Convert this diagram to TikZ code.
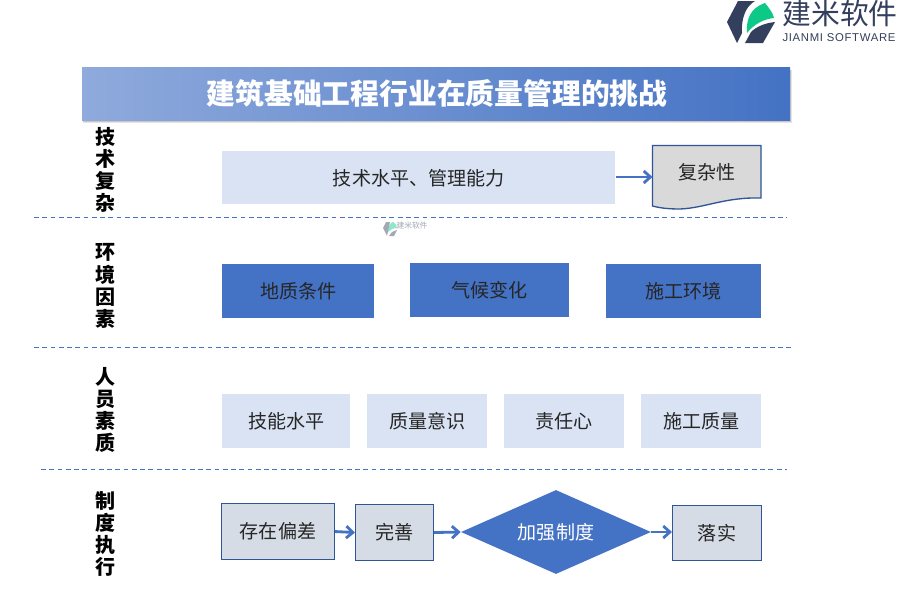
\documentclass[tikz,border=0pt]{standalone}
\usepackage{fontspec}
\setmainfont{Noto Sans CJK SC}
\newfontfamily\latinfont[LetterSpace=6]{Liberation Sans}
\usetikzlibrary{arrows.meta,shapes.geometric,calc}
\definecolor{blueM}{HTML}{4472C4}
\definecolor{blueL}{HTML}{DAE3F3}
\definecolor{blueT}{HTML}{8FAADC}
\definecolor{edgeB}{HTML}{2F5597}
\definecolor{greyB}{HTML}{D6DCE5}
\definecolor{greyD}{HTML}{D9D9D9}
\definecolor{logoD}{HTML}{333F5C}
\definecolor{logoG}{HTML}{0CC988}
\definecolor{txt}{HTML}{262626}
\tikzset{
 x=0.75pt,y=-0.75pt,
 lightbox/.style={fill=blueL,draw=none,inner sep=0pt,font=\fontsize{14.3}{16}\selectfont,text=txt},
 darkbox/.style={fill=blueM,draw=none,inner sep=0pt,font=\fontsize{14.3}{16}\selectfont,text=txt},
 greybox/.style={fill=greyB,draw=edgeB,line width=0.8pt,inner sep=0pt,font=\fontsize{14.3}{16}\selectfont,text=txt},
 sidelabel/.style={font=\fontsize{15}{16.6}\selectfont\bfseries,text=black,align=center,inner sep=0pt},
 divider/.style={draw=blueM,line width=0.8pt,dash pattern=on 3.6pt off 2.6pt},
 flow/.style={draw=blueM,line width=2.1pt,-{Straight Barb[length=5pt,width=9pt,line width=2.1pt]}},
}
\newcommand{\boxat}[7]{\node[#1,minimum width=#4*0.75pt,minimum height=#5*0.75pt,anchor=north west] (#2) at (#3) {#6};}
\begin{document}
\begin{tikzpicture}
\useasboundingbox (0,0) rectangle (900,600);
\fill[white] (0,0) rectangle (900,600);
% title
\fill[black!10] (83,70) rectangle (791.5,123);
\fill[black!22] (83,70) rectangle (790.8,121.5);
\shade[left color=blueT,right color=blueM] (82,67) rectangle (790,120);
\node[inner sep=0pt,text=white,font=\fontsize{21.6}{23}\selectfont\bfseries] (title) at (437,93) {建筑基础工程行业在质量管理的挑战};
% logo
\fill[logoD] (727,22) -- (738,1) -- (755,1) .. controls (746,6) and (741,18) .. (742,33) -- (737,43) -- cycle;
\fill[logoG] (747,33) .. controls (746,20) and (750,8) .. (765,3) .. controls (769,8) and (773,13) .. (774,18) .. controls (764,19) and (754,24) .. (747,33) -- cycle;
\fill[logoD] (745,43) -- (751,32) .. controls (757,26) and (766,23) .. (775,22) -- (763,43) -- cycle;
\node[inner sep=0pt,text=logoD,font=\fontsize{21.6}{23}\selectfont] (logoCn) at (840,14) {建米软件};
\node[inner sep=0pt,text=logoD,font=\latinfont\fontsize{8.5}{10}\selectfont] (logoEn) at (839,38) {JIANMI SOFTWARE};
% watermark
\begin{scope}[opacity=0.45]
\fill[logoD] (383,228) -- (386,222) -- (390,222) -- (387,236) -- cycle;
\fill[logoG] (388,232) .. controls (388,226) and (391,222) .. (393,222) .. controls (396,223) and (397,226) .. (397,228) .. controls (393,228) and (390,230) .. (388,232) -- cycle;
\fill[logoD] (389,236) -- (392,232) -- (397,230) -- (394,236) -- cycle;
\node[inner sep=0pt,text=logoD,font=\fontsize{5.8}{7}\selectfont] (wmark) at (412,226) {建米软件};
\end{scope}
% side labels
\node[sidelabel] (s1) at (105,170) {技\\术\\复\\杂};
\node[sidelabel] (s2) at (105,286) {环\\境\\因\\素};
\node[sidelabel] (s3) at (105,410) {人\\员\\素\\质};
\node[sidelabel] (s4) at (105,534) {制\\度\\执\\行};
% dividers
\coordinate (d1a) at (34,217.5); \coordinate (d1b) at (787,217.5);
\coordinate (d2a) at (34,347.5); \coordinate (d2b) at (794,347.5);
\coordinate (d3a) at (41,469.5); \coordinate (d3b) at (787,469.5);
\draw[divider] (d1a) -- (d1b);
\draw[divider] (d2a) -- (d2b);
\draw[divider] (d3a) -- (d3b);
% row 1
\boxat{lightbox}{a1}{222,151}{393}{53}{技术水平、管理能力}{}
\draw[fill=greyD,draw=edgeB,line width=1pt] (652.5,145.5) -- (761,145.5) -- (761,198) .. controls (725,197) and (705,208) .. (680,209) .. controls (668,209) and (660,208) .. (652.5,206) -- cycle;
\node[inner sep=0pt,text=txt,font=\fontsize{14.3}{16}\selectfont] (a2) at (707,172) {复杂性};
\coordinate (a2w) at (652.5,177);
\draw[flow] (a1.east |- a2w) -- (a2w);
% row 2
\boxat{darkbox}{b1}{222,264}{152}{54}{地质条件}{}
\boxat{darkbox}{b2}{410,263}{159}{54}{气候变化}{}
\boxat{darkbox}{b3}{606,264}{155}{54}{施工环境}{}
% row 3
\boxat{lightbox}{c1}{222,394}{128}{54}{技能水平}{}
\boxat{lightbox}{c2}{367,394}{120}{54}{质量意识}{}
\boxat{lightbox}{c3}{504,394}{120}{54}{责任心}{}
\boxat{lightbox}{c4}{641,394}{120}{54}{施工质量}{}
% row 4
\boxat{greybox}{e1}{221,503}{113}{56}{存在偏差}{}
\boxat{greybox}{e2}{355,504}{78}{56}{完善}{}
\node[diamond,aspect=2.27,fill=blueM,draw=none,inner sep=0pt,minimum width=190*0.75pt,minimum height=84*0.75pt,text=white,font=\fontsize{14.3}{16}\selectfont] (e3) at (556,532) {加强制度};
\boxat{greybox}{e4}{672,505}{89}{55}{落实}{}
\draw[flow] (e1.east) -- (e2.west);
\draw[flow] (e2.east) -- (e3.west);
\draw[flow] (e3.east) -- (e4.west |- e3.east);
\end{tikzpicture}
\end{document}
